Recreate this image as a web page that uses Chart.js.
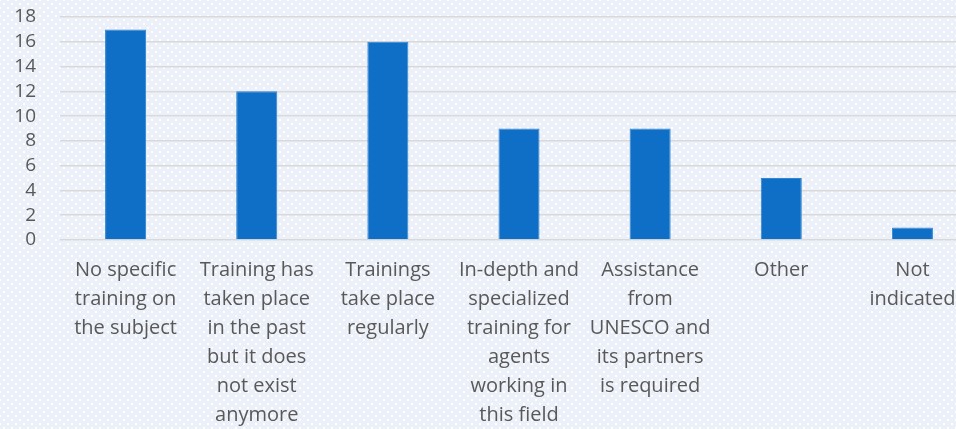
<!DOCTYPE html>
<html>
<head>
<meta charset="utf-8">
<script src="https://cdn.jsdelivr.net/npm/chart.js@4.4.1/dist/chart.umd.min.js"></script>
<style>
  html, body {
    margin: 0;
    padding: 0;
    width: 956px;
    height: 429px;
    overflow: hidden;
  }
  body {
    background-color: #ecf0f8;
    background-image:
      radial-gradient(circle, #ffffff 0.9px, transparent 1.3px),
      radial-gradient(circle, #ffffff 0.9px, transparent 1.3px);
    background-size: 8px 8px;
    background-position: 0 0, 4px 4px;
  }
  .chart-box {
    position: absolute;
    left: 0;
    top: 0;
    width: 978px;
    height: 429px;
  }
</style>
</head>
<body>
<div class="chart-box">
  <canvas id="trainingChart"></canvas>
</div>
<script>
// Categories (multi-line as shown under each bar)
const categories = [
  ["No specific", "training on", "the subject"],
  ["Training has", "taken place", "in the past", "but it does", "not exist", "anymore"],
  ["Trainings", "take place", "regularly"],
  ["In-depth and", "specialized", "training for", "agents", "working in", "this field"],
  ["Assistance", "from", "UNESCO and", "its partners", "is required"],
  ["Other"],
  ["Not", "indicated"]
];
const counts = [17, 12, 16, 9, 9, 5, 1];
const yTicks = [0, 2, 4, 6, 8, 10, 12, 14, 16, 18];

let canvas = document.getElementById("trainingChart");
if (canvas) {
  var ctx = canvas.getContext("2d");
  var data = {
    labels: categories,
    datasets: [
      {
        label: "Count",
        data: counts,
        backgroundColor: "#0f6ec6",
        borderColor: "#2f86d6",
        borderWidth: 1,
        categoryPercentage: 1,
        barPercentage: 0.313,
      },
    ],
  };
  var options = {
    responsive: true,
    maintainAspectRatio: false,
    animation: false,
    layout: {
      padding: { top: 17, right: 0, left: 0, bottom: 0 },
    },
    plugins: {
      legend: { display: false },
      tooltip: { enabled: false },
    },
    scales: {
      x: {
        grid: { display: false },
        border: { display: false },
        ticks: {
          color: "#595959",
          font: { family: "'Open Sans'", size: 20, lineHeight: 1.45 },
          padding: 8,
          maxRotation: 0,
          minRotation: 0,
          autoSkip: false,
        },
        afterFit: function (axis) {
          axis.height = 189;
          axis.paddingLeft = 0;
          axis.paddingRight = 0;
        },
      },
      y: {
        min: 0,
        max: yTicks[yTicks.length - 1],
        afterBuildTicks: function (axis) {
          axis.ticks = yTicks.map(function (v) { return { value: v }; });
        },
        grid: {
          color: "#d9d9d9",
          lineWidth: 1.5,
          drawTicks: false,
        },
        border: { display: false },
        ticks: {
          color: "#595959",
          font: { family: "'Open Sans'", size: 19 },
          padding: 24,
          autoSkip: false,
        },
        afterFit: function (axis) {
          // tick padding would otherwise push the plot top down
          axis.width = 60;
          axis.paddingTop = 0;
          axis.paddingBottom = 0;
        },
      },
    },
  };
  var trainingChart = new Chart(ctx, {
    type: "bar",
    data: data,
    options: options,
  });
}
</script>
</body>
</html>
